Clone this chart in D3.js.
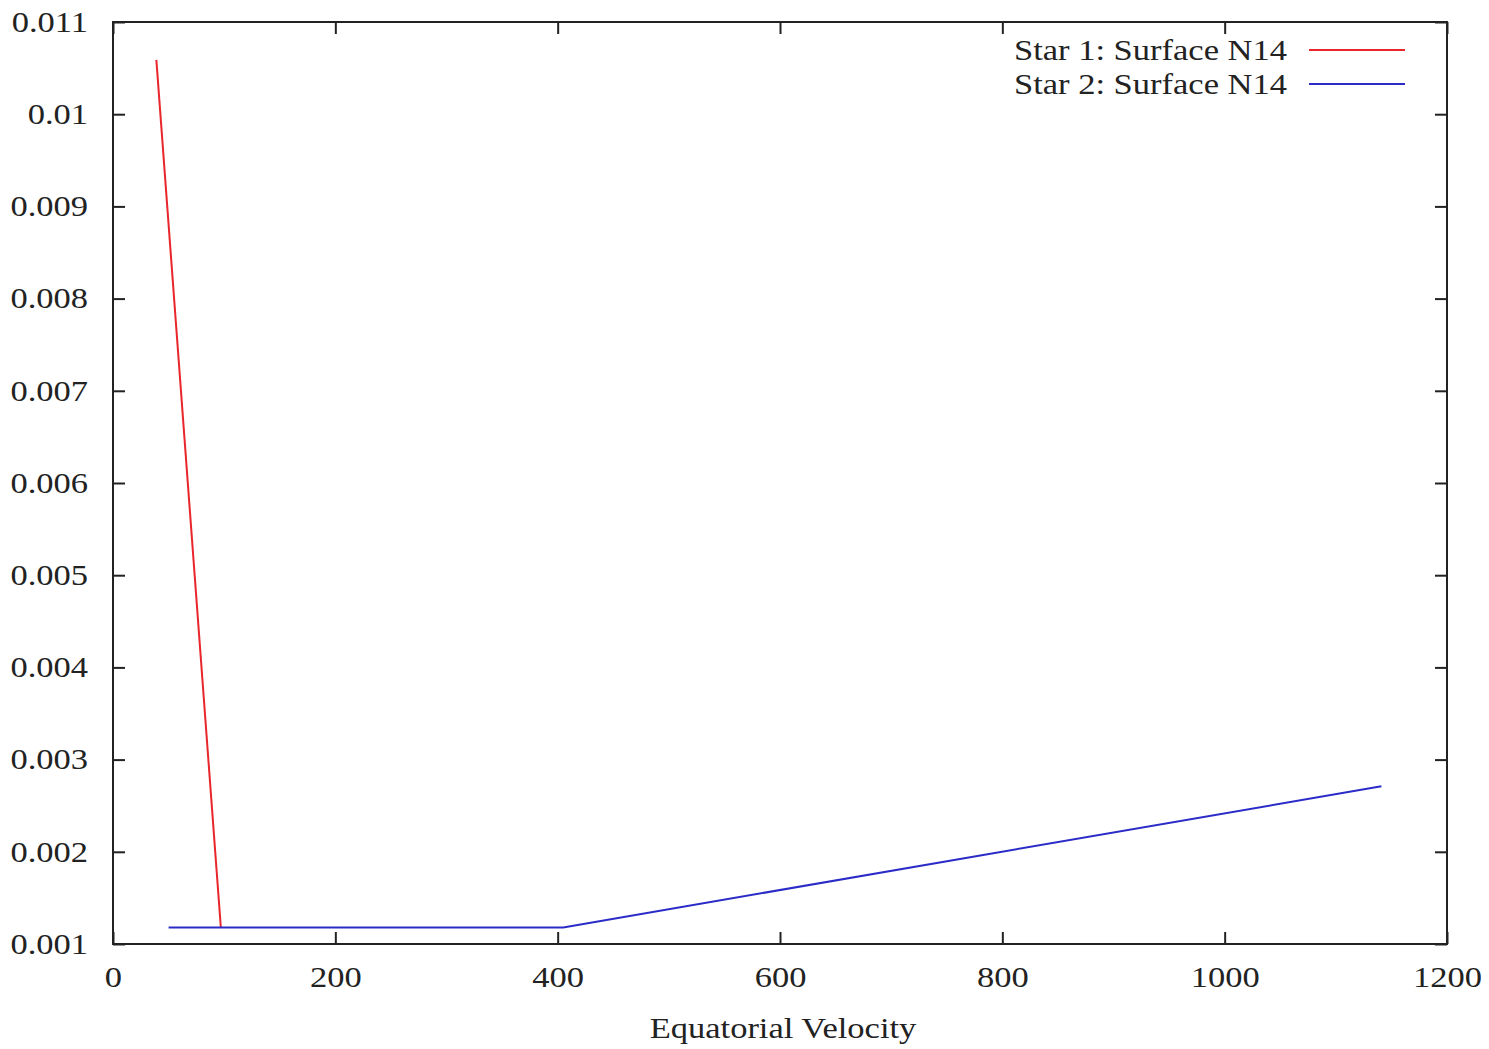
<!DOCTYPE html>
<html><head><meta charset="utf-8">
<script src="https://cdn.jsdelivr.net/npm/d3@7"></script>
<style>body{margin:0;background:#fff}svg{display:block}</style>
</head><body>
<script>
const xTicks = [0,200,400,600,800,1000,1200];
const yTicks = [0.001,0.002,0.003,0.004,0.005,0.006,0.007,0.008,0.009,0.01,0.011];
const yTickLabels = ["0.001","0.002","0.003","0.004","0.005","0.006","0.007","0.008","0.009","0.01","0.011"];
const star1X = [39, 97];
const star1Y = [0.01059, 0.00118];
const star2X = [50, 405, 1141];
const star2Y = [0.00118, 0.00118, 0.00271];
const seriesNames = ["Star 1: Surface N14","Star 2: Surface N14"];
const seriesColors = ["#e8262b","#2b2bc8"];

const W=1489,H=1049;
const m={l:113,r:1447,t:22,b:944};
const svg=d3.select("body").append("svg").attr("width",W).attr("height",H);
const x=d3.scaleLinear().domain([0,1200]).range([m.l,m.r]);
const y=d3.scaleLinear().domain([0.001,0.011]).range([m.b,m.t]);
const font="Liberation Serif, Times New Roman, serif";
const tl=12, fs=29, sx=1.19;
function stretch(sel){
  sel.each(function(){
    const t=d3.select(this); const ax=+t.attr("x")||0;
    t.attr("transform",`translate(${ax},0) scale(${sx},1) translate(${-ax},0)`);
  });
}

svg.append("g").attr("transform",`translate(0,${m.b})`)
 .call(d3.axisBottom(x).tickValues(xTicks).tickSize(-tl).tickPadding(22).tickFormat(d3.format("d")))
 .call(g=>{g.select(".domain").remove();g.selectAll("text").attr("font-family",font).attr("font-size",fs).attr("fill","#222").call(stretch);g.selectAll("line").attr("stroke","#222").attr("stroke-width",2);});
svg.append("g").attr("transform",`translate(0,${m.t})`)
 .call(d3.axisTop(x).tickValues(xTicks).tickSize(-tl).tickFormat(""))
 .call(g=>{g.select(".domain").remove();g.selectAll("line").attr("stroke","#222").attr("stroke-width",2);});
svg.append("g").attr("transform",`translate(${m.l},0)`)
 .call(d3.axisLeft(y).tickValues(yTicks).tickSize(-tl).tickPadding(25).tickFormat((d,i)=>yTickLabels[i]))
 .call(g=>{g.select(".domain").remove();g.selectAll("text").attr("font-family",font).attr("font-size",fs).attr("fill","#222").call(stretch);g.selectAll("line").attr("stroke","#222").attr("stroke-width",2);});
svg.append("g").attr("transform",`translate(${m.r},0)`)
 .call(d3.axisRight(y).tickValues(yTicks).tickSize(-tl).tickFormat(""))
 .call(g=>{g.select(".domain").remove();g.selectAll("line").attr("stroke","#222").attr("stroke-width",2);});

svg.append("rect").attr("x",m.l).attr("y",m.t).attr("width",m.r-m.l).attr("height",m.b-m.t)
 .attr("fill","none").attr("stroke","#222").attr("stroke-width",2);

const line=d3.line().x(d=>x(d[0])).y(d=>y(d[1]));
const s1=star1X.map((v,i)=>[v,star1Y[i]]);
const s2=star2X.map((v,i)=>[v,star2Y[i]]);
svg.append("path").attr("d",line(s1)).attr("fill","none").attr("stroke",seriesColors[0]).attr("stroke-width",2);
svg.append("path").attr("d",line(s2)).attr("fill","none").attr("stroke",seriesColors[1]).attr("stroke-width",2);

const lg=svg.append("g");
seriesNames.forEach((n,i)=>{
  const yy=50+i*34;
  lg.append("text").attr("x",1287).attr("y",yy+10).attr("text-anchor","end")
    .attr("font-family",font).attr("font-size",fs).attr("fill","#222").text(n).call(stretch);
  lg.append("line").attr("x1",1309).attr("x2",1405).attr("y1",yy).attr("y2",yy)
    .attr("stroke",seriesColors[i]).attr("stroke-width",2);
});

svg.append("text").attr("x",783).attr("y",1038).attr("text-anchor","middle")
 .attr("font-family",font).attr("font-size",fs).attr("fill","#222").text("Equatorial Velocity").call(stretch);
</script>
</body></html>
